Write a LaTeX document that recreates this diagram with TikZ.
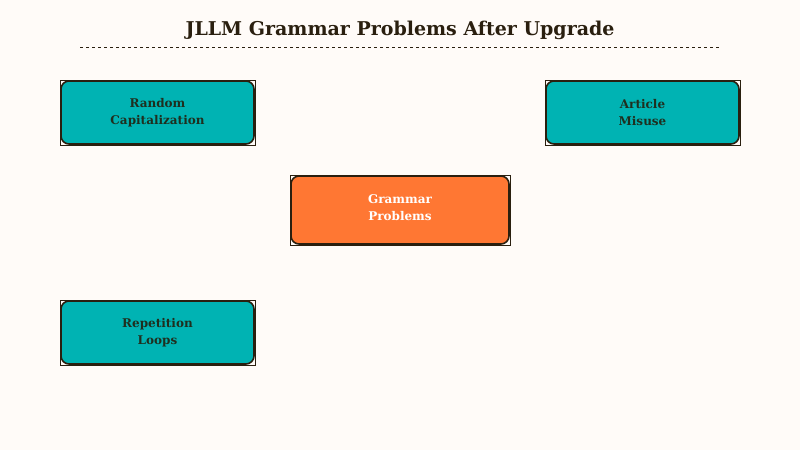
\documentclass[tikz,border=0pt]{standalone}
\usepackage{fontspec}
\setmainfont{DejaVu Serif}
\definecolor{bg}{HTML}{FFFBF8}
\definecolor{teal}{HTML}{00B3B3}
\definecolor{orng}{HTML}{FF7733}
\definecolor{ink}{HTML}{2A1F0F}
\definecolor{txt}{HTML}{1F2F1F}
\tikzset{
  frame/.style={draw=ink, line width=1pt, fill=bg},
  box/.style={draw=ink, line width=1.6pt, rounded corners=8pt, fill=teal},
  lbl/.style={font=\bfseries\fontsize{12}{17}\selectfont, align=center, text=txt},
}
\newcommand{\mybox}[6]{%
  \draw[frame] (#1,#2) rectangle (#3,#4);
  \draw[box,#6] (#1+1,#2-1) rectangle (#3-1,#4+1);
  \node[lbl] (#5) at ({(#1+#3)/2},{(#2+#4)/2}) {};}
\begin{document}
\begin{tikzpicture}[x=1pt,y=-1pt]
\fill[bg] (0,0) rectangle (800,450);
\useasboundingbox (0,0) rectangle (800,450);
\node[font=\bfseries\fontsize{19}{22}\selectfont, text=ink] (title) at (400,30) {JLLM Grammar Problems After Upgrade};
\coordinate (dl) at (80,47); \coordinate (dr) at (720,47);
\draw[ink, dashed, line width=0.8pt] (dl) -- (dr);
\draw[frame] (60,80) rectangle (255,145);
\draw[box] (61,81) rectangle (254,144);
\node[lbl] (rc) at (157.5,112.5) {Random\\Capitalization};
\draw[frame] (545,80) rectangle (740,145);
\draw[box] (546,81) rectangle (739,144);
\node[lbl] (am) at (642.5,112.5) {Article\\Misuse};
\draw[frame] (290,175) rectangle (510,245);
\draw[box, fill=orng] (291,176) rectangle (509,244);
\node[lbl, text=white] (gp) at (400,208) {Grammar\\Problems};
\draw[frame] (60,300) rectangle (255,365);
\draw[box] (61,301) rectangle (254,364);
\node[lbl] (rl) at (157.5,332.5) {Repetition\\Loops};
\end{tikzpicture}
\end{document}
